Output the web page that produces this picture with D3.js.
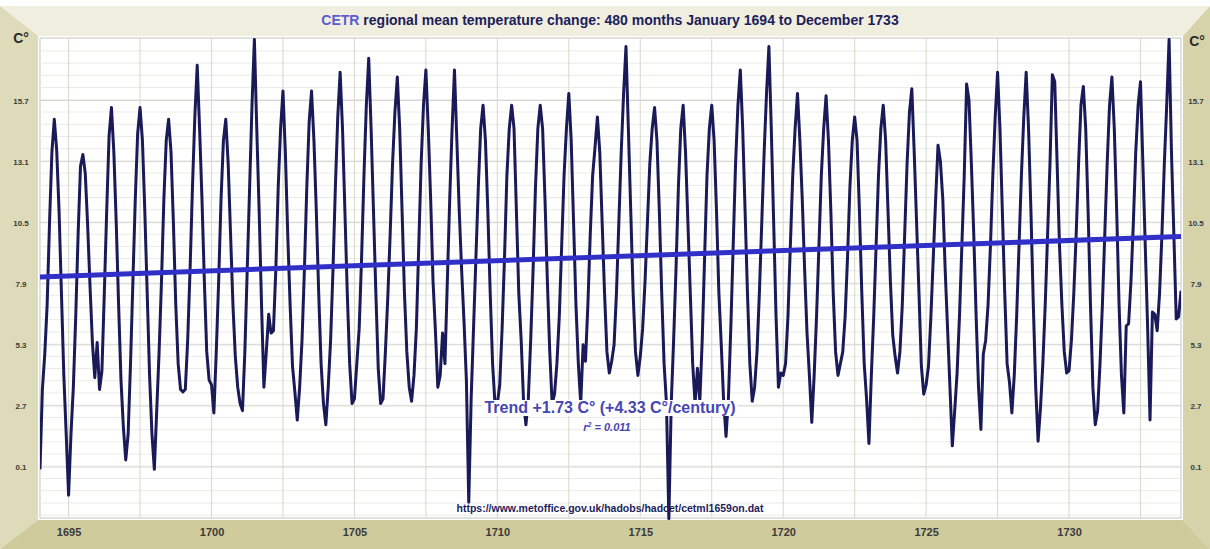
<!DOCTYPE html>
<html>
<head>
<meta charset="utf-8">
<script src="https://cdn.jsdelivr.net/npm/d3@7"></script>
<style>
  body { margin: 0; background: #fff; }
  svg { display: block; font-family: "Liberation Sans", Arial, sans-serif; }
</style>
</head>
<body>
<svg width="1210" height="549"></svg>
<script>
// monthly mean temperature, one row per year, Jan..Dec
const firstYear = 1694
const temps = [
  [0.0, 3.4, 4.9, 7.0, 10.5, 13.5, 14.9, 13.6, 11.0, 7.5, 4.0, 1.5],    // 1694
  [-1.1, 1.5, 3.5, 6.5, 10.0, 12.9, 13.4, 12.6, 10.4, 7.8, 5.4, 3.9],   // 1695
  [5.4, 3.4, 4.2, 7.5, 11.0, 14.2, 15.4, 13.5, 10.5, 7.0, 3.8, 1.8],
  [0.4, 1.5, 4.5, 8.0, 11.5, 14.3, 15.4, 14.0, 11.0, 7.5, 4.0, 1.5],
  [0.0, 2.5, 5.0, 8.0, 11.5, 14.0, 14.9, 13.5, 10.5, 7.0, 4.5, 3.4],
  [3.3, 3.4, 5.5, 8.5, 12.0, 15.0, 17.2, 14.5, 11.5, 8.0, 5.0, 3.8],
  [3.6, 2.4, 5.0, 8.0, 11.5, 14.0, 14.9, 13.0, 10.0, 7.0, 4.8, 3.5],    // 1700
  [2.8, 2.5, 5.0, 8.5, 12.0, 15.5, 18.3, 14.5, 11.0, 7.0, 3.5, 5.0],
  [6.6, 5.8, 5.9, 8.5, 12.0, 14.5, 16.1, 13.5, 10.0, 7.0, 4.4, 3.3],
  [2.1, 3.5, 5.5, 8.5, 12.0, 14.8, 16.1, 14.0, 11.0, 7.5, 4.5, 2.8],
  [1.9, 3.5, 5.5, 8.5, 12.0, 15.0, 16.9, 14.5, 11.0, 7.5, 4.5, 2.8],
  [3.0, 4.5, 6.0, 9.0, 12.5, 15.5, 17.5, 14.5, 11.0, 7.5, 4.3, 2.8],    // 1705
  [3.0, 5.0, 7.3, 10.0, 13.0, 15.2, 16.7, 14.5, 11.0, 7.5, 5.0, 3.5],
  [2.9, 4.0, 6.0, 9.5, 13.0, 15.5, 17.0, 14.5, 11.5, 8.0, 5.9, 3.5],
  [4.0, 5.8, 4.5, 8.0, 11.5, 14.5, 17.0, 14.0, 11.0, 8.5, 6.3, 3.8],
  [-1.4, 3.0, 6.0, 9.0, 12.0, 14.5, 15.5, 14.0, 11.0, 7.5, 4.5, 2.8],
  [2.8, 3.6, 6.0, 9.0, 12.5, 14.5, 15.5, 14.5, 11.0, 7.5, 5.5, 2.9],    // 1710
  [1.9, 3.0, 5.5, 8.5, 12.0, 14.5, 15.5, 14.5, 11.5, 8.0, 5.0, 2.8],
  [3.2, 4.5, 6.5, 9.5, 12.5, 14.5, 16.0, 14.0, 10.5, 7.0, 4.5, 2.8],
  [5.3, 4.6, 7.0, 10.0, 12.5, 13.7, 15.0, 13.5, 10.5, 7.5, 5.0, 4.1],
  [4.6, 5.3, 7.5, 10.5, 13.5, 16.0, 18.0, 14.5, 11.0, 7.5, 5.0, 4.0],
  [4.8, 6.0, 8.0, 10.5, 13.0, 14.5, 15.4, 14.0, 11.0, 7.5, 4.5, 2.8],   // 1715
  [-2.1, 2.8, 5.5, 8.5, 12.0, 14.5, 15.5, 13.5, 10.5, 7.5, 4.5, 2.8],
  [4.3, 2.9, 5.5, 9.0, 12.5, 14.5, 15.5, 14.0, 11.0, 7.5, 5.3, 2.9],
  [1.4, 3.0, 6.0, 9.5, 13.0, 15.5, 17.0, 14.5, 11.0, 7.5, 4.5, 2.9],
  [3.5, 5.0, 7.5, 10.5, 13.5, 16.0, 18.0, 14.5, 10.5, 6.5, 3.5, 4.1],
  [4.0, 4.5, 6.5, 9.5, 12.5, 14.5, 16.0, 14.0, 11.5, 8.5, 5.8, 4.0],   // 1720
  [2.0, 4.0, 6.5, 9.5, 12.5, 14.5, 15.9, 14.0, 11.0, 7.5, 5.0, 4.0],
  [4.5, 5.0, 6.5, 9.0, 12.0, 14.0, 15.0, 14.0, 11.0, 7.5, 4.5, 3.0],
  [1.1, 4.0, 6.5, 9.5, 12.5, 14.5, 15.5, 14.0, 11.0, 8.0, 5.7, 4.8],
  [4.1, 5.0, 7.0, 10.0, 13.0, 15.2, 16.2, 13.5, 10.5, 7.5, 4.4, 3.2],
  [3.6, 4.4, 6.5, 9.0, 11.5, 13.8, 13.1, 11.5, 8.5, 6.0, 3.5, 1.0],    // 1725
  [2.5, 4.1, 6.5, 9.5, 12.5, 16.4, 15.7, 13.0, 10.0, 6.5, 3.5, 1.7],
  [4.9, 5.5, 7.0, 9.5, 12.5, 15.0, 16.9, 14.5, 11.0, 7.5, 4.5, 3.7],
  [2.4, 4.0, 6.5, 9.5, 12.5, 15.0, 16.9, 14.5, 11.0, 7.0, 3.5, 1.2],
  [2.6, 4.5, 7.0, 10.0, 13.0, 16.8, 16.5, 13.0, 9.5, 7.0, 5.0, 4.1],
  [4.2, 5.5, 7.5, 10.0, 13.0, 15.5, 16.3, 14.5, 11.0, 7.0, 3.5, 1.9],  // 1730
  [2.5, 4.5, 7.0, 10.0, 13.0, 15.5, 16.7, 14.5, 11.0, 7.0, 4.0, 2.4],
  [6.1, 6.2, 8.0, 10.5, 13.5, 15.5, 16.5, 13.0, 9.5, 6.0, 2.1, 6.7],
  [6.6, 5.9, 7.5, 10.0, 13.0, 15.5, 18.3, 13.5, 10.0, 6.4, 6.5, 7.6]
]
// trend line value at first and last month
const trendEnds = [8.19, 9.91]
const yTicks = [0.1, 2.7, 5.3, 7.9, 10.5, 13.1, 15.7]
const xTicks = [1695, 1700, 1705, 1710, 1715, 1720, 1725, 1730]

const series = temps.flat().map((v, i) => ({t: firstYear + i / 12, v: v}))

const W = 1210, H = 549
const plot = {l: 40, r: 1181, t: 38, b: 518}

const svg = d3.select('svg')

// picture frame
const frame = svg.append('g')
frame.append('polygon').attr('points', `0,6 ${W},6 1183,36 38,36`).attr('fill', '#efeedf')
frame.append('polygon').attr('points', `0,6 38,36 38,520 0,${H}`).attr('fill', '#dddbb9')
frame.append('polygon').attr('points', `${W},6 ${W},${H} 1183,520 1183,36`).attr('fill', '#d6d3aa')
frame.append('polygon').attr('points', `0,${H} 38,520 1183,520 ${W},${H}`).attr('fill', '#cfcb9d')

const x = d3.scaleLinear().domain([firstYear, firstYear + (series.length - 1) / 12]).range([plot.l, plot.r])
const y = d3.scaleLinear().domain([-2.07, 18.36]).range([plot.b, plot.t])

svg.append('rect').attr('x', plot.l).attr('y', plot.t)
  .attr('width', plot.r - plot.l).attr('height', plot.b - plot.t)
  .attr('fill', '#fff').attr('stroke', '#c4c4bc')

// grid
const grid = svg.append('g')
grid.selectAll('.minor').data(d3.range(-1.95, 18.3, 0.52)).enter().append('line')
  .attr('x1', plot.l).attr('x2', plot.r)
  .attr('y1', d => y(d)).attr('y2', d => y(d))
  .attr('stroke', '#ebebe6')
grid.selectAll('.major').data(yTicks).enter().append('line')
  .attr('x1', plot.l).attr('x2', plot.r)
  .attr('y1', d => y(d)).attr('y2', d => y(d))
  .attr('stroke', '#d6d6d0')
grid.selectAll('.vert').data(d3.range(1695, 1734, 2.5)).enter().append('line')
  .attr('y1', plot.t).attr('y2', plot.b)
  .attr('x1', d => x(d)).attr('x2', d => x(d))
  .attr('stroke', '#d5d9c9')

// axes (labels only)
const yl = svg.append('g').attr('transform', 'translate(21,0)')
  .call(d3.axisLeft(y).tickValues(yTicks).tickSize(0).tickPadding(0).tickFormat(d3.format('.1f')))
const yr = svg.append('g').attr('transform', 'translate(1196,0)')
  .call(d3.axisLeft(y).tickValues(yTicks).tickSize(0).tickPadding(0).tickFormat(d3.format('.1f')))
const xa = svg.append('g').attr('transform', 'translate(0,528)')
  .call(d3.axisBottom(x).tickValues(xTicks).tickSize(0).tickPadding(0).tickFormat(d3.format('d')))
;[yl, yr, xa].forEach(a => a.select('.domain').remove())
;[yl, yr].forEach(a => a.selectAll('text').attr('text-anchor', 'middle')
  .attr('font-size', 8).attr('font-weight', 'bold').attr('fill', '#3a3a3a').attr('font-family', 'Liberation Sans'))
xa.selectAll('text').attr('font-size', 11).attr('font-weight', 'bold').attr('fill', '#3a3a3a')
  .attr('font-family', 'Liberation Sans')

svg.append('text').attr('x', 21).attr('y', 43).attr('text-anchor', 'middle')
  .attr('font-size', 14).attr('font-weight', 'bold').attr('fill', '#2a2a2a').text('C°')
svg.append('text').attr('x', 1197).attr('y', 46).attr('text-anchor', 'middle')
  .attr('font-size', 14).attr('font-weight', 'bold').attr('fill', '#2a2a2a').text('C°')

// title
const title = svg.append('text').attr('x', 610).attr('y', 25).attr('text-anchor', 'middle')
  .attr('font-size', 14).attr('font-weight', 'bold').attr('fill', '#1d1d5c')
title.append('tspan').attr('fill', '#5c5cd0').text('CETR')
title.append('tspan').text(' regional mean temperature change: 480 months January 1694 to December 1733')

// source
svg.append('text').attr('x', 610).attr('y', 512).attr('text-anchor', 'middle')
  .attr('font-size', 10.5).attr('font-weight', 'bold').attr('fill', '#1d1d5c')
  .text('https://www.metoffice.gov.uk/hadobs/hadcet/cetml1659on.dat')

// data line
svg.append('clipPath').attr('id', 'clip').append('rect')
  .attr('x', plot.l).attr('y', plot.t).attr('width', plot.r - plot.l).attr('height', plot.b - plot.t + 4)
const line = d3.line().x(d => x(d.t)).y(d => y(d.v))
svg.append('path').datum(series).attr('clip-path', 'url(#clip)')
  .attr('d', line).attr('fill', 'none').attr('stroke', '#1a1a58')
  .attr('stroke-width', 3).attr('stroke-linejoin', 'round')

// trend
const tFirst = series[0].t, tLast = series[series.length - 1].t
svg.append('line')
  .attr('x1', x(tFirst)).attr('y1', y(trendEnds[0]))
  .attr('x2', x(tLast)).attr('y2', y(trendEnds[1]))
  .attr('stroke', '#3030c8').attr('stroke-width', 5)

// trend labels, on an opaque box like the original
function label(txt, xx, yy, size, style){
  const g = svg.append('g')
  const t = g.append('text').attr('x', xx).attr('y', yy).attr('text-anchor', 'middle')
    .attr('font-size', size).attr('font-weight', 'bold').attr('font-style', style)
    .attr('fill', '#4646b4').text(txt)
  const bb = t.node().getBBox()
  g.insert('rect', 'text').attr('x', bb.x - 2).attr('y', bb.y + 1)
    .attr('width', bb.width + 4).attr('height', bb.height - 1).attr('fill', '#fff')
  return t
}
label('Trend +1.73 C° (+4.33 C°/century)', 610, 413, 16, 'normal')
const r2 = label('', 607, 431, 11, 'italic')
r2.append('tspan').text('r')
r2.append('tspan').attr('font-size', 7).attr('dy', -4).text('2')
r2.append('tspan').attr('dy', 4).text(' = 0.011')
</script>
</body>
</html>
